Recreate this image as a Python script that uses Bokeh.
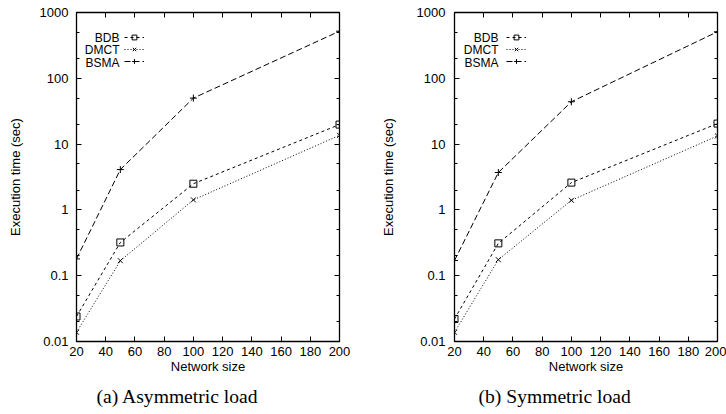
from bokeh.plotting import figure
from bokeh.models import (FixedTicker, LinearAxis, LogAxis, Legend, LegendItem,
                          Label, Title, Range1d)
from bokeh.layouts import row
from bokeh.embed import file_html
from bokeh.resources import INLINE

# Execution time (sec) against network size, for both load scenarios
network_size = [20, 50, 100, 200]

asym_bdb = [0.024, 0.32, 2.5, 19.8]
asym_dmct = [0.0138, 0.169, 1.42, 13.6]
asym_bsma = [0.18, 4.1, 50, 520]

sym_bdb = [0.022, 0.31, 2.6, 20.5]
sym_dmct = [0.0138, 0.175, 1.4, 13.3]
sym_bsma = [0.17, 3.7, 44, 510]

series_names = ["BDB", "DMCT", "BSMA"]
captions = ["(a) Asymmetric load", "(b) Symmetric load"]

x_ticks = [20, 40, 60, 80, 100, 120, 140, 160, 180, 200]
y_ticks = [0.01, 0.1, 1, 10, 100, 1000]
y_tick_labels = ["0.01", "0.1", "1", "10", "100", "1000"]
y_minor_ticks = [0.02, 0.05, 0.2, 0.5, 2, 5, 20, 50, 200, 500]

SANS = "Liberation Sans"
SERIF = "Liberation Serif"

styles = [
    dict(marker="square", dash="3 3"),
    dict(marker="x", dash="1 2"),
    dict(marker="cross", dash="6 3"),
]


def style_axis(ax):
    ax.axis_line_color = None
    ax.major_tick_in = 5
    ax.major_tick_out = 0
    ax.minor_tick_in = 3
    ax.minor_tick_out = 0
    ax.major_tick_line_color = "black"
    ax.minor_tick_line_color = "black"
    ax.major_label_text_font = SANS
    ax.major_label_text_font_size = "13px"
    ax.major_label_text_color = "black"
    ax.axis_label_text_font = SANS
    ax.axis_label_text_font_size = "13px"
    ax.axis_label_text_font_style = "normal"
    ax.axis_label_text_color = "black"


def tick_only(ax):
    # edge axis that only carries inward tick marks
    style_axis(ax)
    ax.major_label_text_font_size = "1px"
    ax.major_label_text_color = None
    ax.major_label_standoff = 0


def make_panel(bdb, dmct, bsma, caption, border_left, border_right,
               ylabel_standoff, ytick_standoff, legend_x, key_text_x,
               caption_offset):
    p = figure(width=363, height=414, y_axis_type="log",
               x_range=Range1d(20, 200), y_range=Range1d(0.01, 1000),
               output_backend="svg", toolbar_location=None, title=None)
    p.min_border_left = border_left
    p.min_border_right = border_right
    p.min_border_top = 12
    p.min_border_bottom = 72
    p.background_fill_color = "white"
    p.border_fill_color = "white"
    p.outline_line_color = "black"
    p.outline_line_width = 1.3
    p.grid.visible = False

    xa = p.xaxis[0]
    xa.ticker = FixedTicker(ticks=x_ticks)
    xa.axis_label = "Network size"
    style_axis(xa)
    xa.major_label_standoff = 5
    xa.axis_label_standoff = 0

    ya = p.yaxis[0]
    ya.ticker = FixedTicker(ticks=y_ticks, minor_ticks=y_minor_ticks)
    ya.major_label_overrides = dict(zip(y_ticks, y_tick_labels))
    ya.axis_label = "Execution time (sec)"
    style_axis(ya)
    ya.major_label_standoff = ytick_standoff
    ya.axis_label_standoff = ylabel_standoff

    top = LinearAxis(ticker=FixedTicker(ticks=x_ticks))
    tick_only(top)
    p.add_layout(top, "above")

    right = LogAxis(ticker=FixedTicker(ticks=y_ticks, minor_ticks=y_minor_ticks))
    tick_only(right)
    p.add_layout(right, "right")

    items = []
    for name, vals, st in zip(series_names, [bdb, dmct, bsma], styles):
        lr = p.line(network_size, vals, line_color="black", line_width=1,
                    line_dash=st["dash"])
        sr = p.scatter(network_size, vals, marker=st["marker"], size=7,
                       line_color="black", fill_color=None, line_width=1)
        items.append(LegendItem(label=name, renderers=[lr, sr]))

    # line samples of the key; the names are written to their left below
    legend = Legend(items=items, location=(legend_x, 274), padding=0, margin=0,
                    spacing=0, glyph_width=20, glyph_height=12, label_height=12,
                    label_width=0, label_standoff=0, label_text_font=SANS,
                    label_text_font_size="1px", label_text_color=None,
                    border_line_color=None, background_fill_alpha=0)
    p.add_layout(legend)

    for i, name in enumerate(series_names):
        p.add_layout(Label(x=key_text_x, y=304 - 12.5 * i, x_units="screen",
                           y_units="screen", text=name, text_align="right",
                           text_baseline="middle", text_font=SANS,
                           text_font_size="12px", text_color="black"))

    p.add_layout(Title(text=caption, text_font=SERIF, text_font_size="19.6px",
                       text_font_style="normal", text_color="black", align="left",
                       offset=caption_offset, standoff=15), "below")
    return p


p1 = make_panel(asym_bdb, asym_dmct, asym_bsma, captions[0], 76, 24,
                ylabel_standoff=14, ytick_standoff=8, legend_x=48, key_text_x=43,
                caption_offset=20)
p2 = make_panel(sym_bdb, sym_dmct, sym_bsma, captions[1], 91, 9,
                ylabel_standoff=18, ytick_standoff=9, legend_x=52, key_text_x=44,
                caption_offset=24)

layout = row(p1, p2, spacing=0)
open("out.html", "w").write(file_html(layout, INLINE))
